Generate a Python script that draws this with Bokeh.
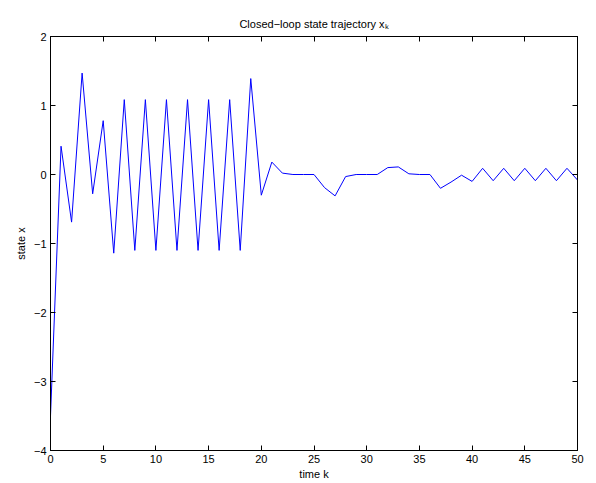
from bokeh.plotting import figure
from bokeh.models import Range1d, FixedTicker, LinearAxis
from bokeh.embed import file_html
from bokeh.resources import INLINE

# data
k = list(range(51))
x_state = [-3.50, 0.41, -0.69, 1.47, -0.28, 0.78, -1.14, 1.085, -1.10, 1.085,
           -1.10, 1.085, -1.10, 1.085, -1.10, 1.085, -1.10, 1.085, -1.10, 1.39,
           -0.30, 0.18, 0.02, 0.00, 0.00, 0.00, -0.19, -0.31, -0.03, 0.00,
           0.00, 0.00, 0.10, 0.11, 0.01, 0.00, 0.00, -0.20, -0.11, -0.01,
           -0.10, 0.09, -0.09, 0.09, -0.09, 0.09, -0.09, 0.09, -0.09, 0.09,
           -0.08]
x_ticks = [0, 5, 10, 15, 20, 25, 30, 35, 40, 45, 50]
y_ticks = [-4, -3, -2, -1, 0, 1, 2]
y_tick_labels = {t: ("\u2212%d" % -t if t < 0 else "%d" % t) for t in y_ticks}
title_text = "Closed\u2212loop state trajectory x\u2096"

FONT = "Liberation Sans"
FS = "11px"

p = figure(width=596, height=483, x_range=Range1d(0, 50), y_range=Range1d(-4, 2),
           output_backend="svg", toolbar_location=None,
           min_border_left=50, min_border_right=19, min_border_top=36,
           min_border_bottom=33)
p.title.text = title_text
p.title.align = "center"
p.title.text_font = FONT
p.title.text_font_size = FS
p.title.text_font_style = "normal"
p.title.text_color = "black"
p.title.standoff = 13

p.grid.visible = False
p.outline_line_color = "black"
p.outline_line_width = 1
p.background_fill_color = "white"
p.border_fill_color = "white"

p.line(k, x_state, line_color="#0000ff", line_width=1)

for ax in p.xaxis:
    ax.ticker = FixedTicker(ticks=x_ticks)
    ax.axis_label = "time k"
    ax.axis_label_standoff = 2
for ax in p.yaxis:
    ax.ticker = FixedTicker(ticks=y_ticks)
    ax.major_label_overrides = y_tick_labels
    ax.axis_label = "state x"
    ax.axis_label_standoff = 4

for ax in list(p.xaxis) + list(p.yaxis):
    ax.major_tick_in = 5
    ax.major_tick_out = 0
    ax.minor_tick_line_color = None
    ax.major_label_standoff = 4
    ax.axis_line_color = "black"
    ax.major_tick_line_color = "black"
    ax.major_label_text_font = FONT
    ax.major_label_text_font_size = FS
    ax.major_label_text_color = "black"
    ax.axis_label_text_font = FONT
    ax.axis_label_text_font_size = FS
    ax.axis_label_text_font_style = "normal"
    ax.axis_label_text_color = "black"

top = LinearAxis(ticker=FixedTicker(ticks=x_ticks),
                 major_label_overrides={t: "" for t in x_ticks})
right = LinearAxis(ticker=FixedTicker(ticks=y_ticks),
                   major_label_overrides={t: "" for t in y_ticks})
for ax in (top, right):
    ax.major_tick_in = 5
    ax.major_tick_out = 0
    ax.minor_tick_line_color = None
    ax.major_label_standoff = 0
    ax.axis_line_color = "black"
    ax.major_tick_line_color = "black"
p.add_layout(top, "above")
p.add_layout(right, "right")

open("out.html", "w").write(file_html(p, INLINE))
